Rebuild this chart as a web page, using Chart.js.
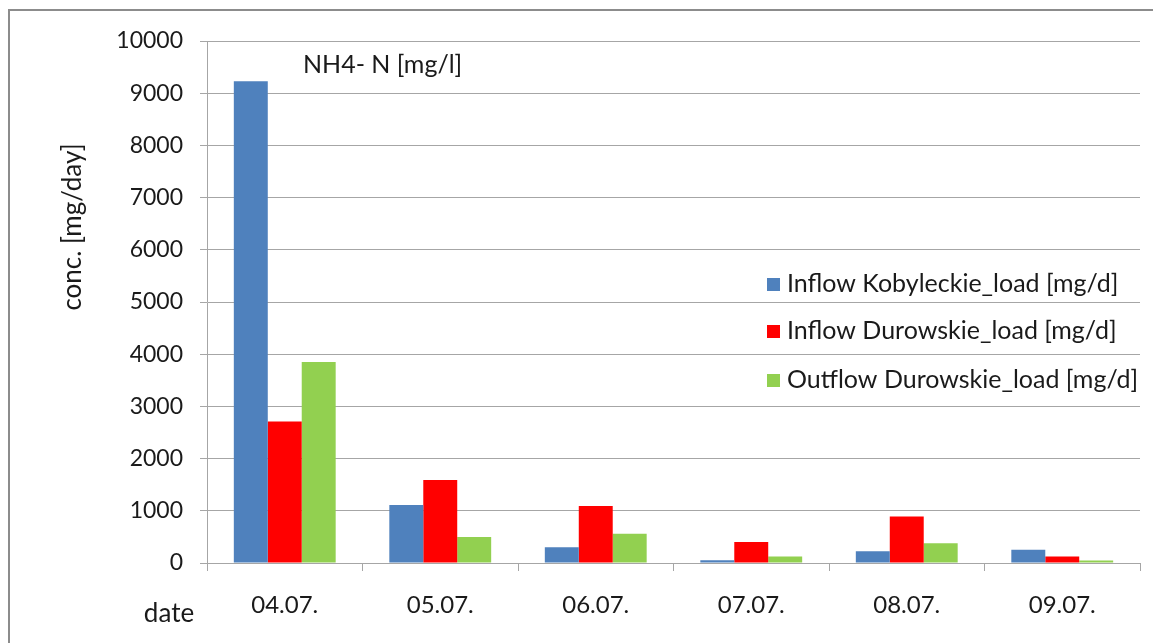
<!DOCTYPE html>
<html>
<head>
<meta charset="utf-8">
<script src="https://cdn.jsdelivr.net/npm/chart.js@4.4.1/dist/chart.umd.min.js"></script>
<style>
  html, body { margin: 0; padding: 0; background: #ffffff; }
  #wrap { position: relative; width: 1153px; height: 643px; }
  canvas { display: block; }
</style>
</head>
<body>
<div id="wrap"><canvas id="chart" width="1153" height="643"></canvas></div>
<script>
// Sampling dates and NH4-N loads per station
const dates = ['04.07.', '05.07.', '06.07.', '07.07.', '08.07.', '09.07.'];
const inflowKobyleckie = [9230, 1110, 300, 55, 225, 255];
const inflowDurowskie = [2710, 1590, 1090, 400, 890, 125];
const outflowDurowskie = [3850, 500, 560, 125, 380, 50];
const yTicks = [0, 1000, 2000, 3000, 4000, 5000, 6000, 7000, 8000, 9000, 10000];

const seriesNames = [
  'Inflow Kobyleckie_load [mg/d]',
  'Inflow Durowskie_load [mg/d]',
  'Outflow Durowskie_load [mg/d]'
];
const seriesColors = ['#4F81BD', '#FF0000', '#92D050'];

const FONT = 'Lato, "Open Sans", sans-serif';
const TEXT = '#1a1a1a';
const GRID = '#a6a6a6';

// Frame, titles and the in-plot legend
const decorations = {
  id: 'decorations',
  beforeDraw(chart) {
    const ctx = chart.ctx;
    ctx.save();
    ctx.fillStyle = '#ffffff';
    ctx.fillRect(0, 0, chart.width, chart.height);
    ctx.strokeStyle = '#8c8c8c';
    ctx.lineWidth = 2;
    ctx.strokeRect(9, 10, chart.width + 20, chart.height + 20);
    ctx.restore();
  },
  afterDraw(chart) {
    const ctx = chart.ctx;
    ctx.save();
    ctx.fillStyle = TEXT;
    ctx.textBaseline = 'middle';

    // chart heading
    ctx.font = '25px ' + FONT;
    ctx.textAlign = 'left';
    ctx.fillText('NH4- N [mg/l]', 303, 65);

    // y axis title
    ctx.save();
    ctx.translate(73, 227);
    ctx.rotate(-Math.PI / 2);
    ctx.textAlign = 'center';
    ctx.font = '26px ' + FONT;
    ctx.fillText('conc. [mg/day]', 0, 0);
    ctx.restore();

    // x axis title
    ctx.textAlign = 'center';
    ctx.font = '26px ' + FONT;
    ctx.fillText('date', 169, 614);

    // legend
    const rows = [284, 331, 380];
    ctx.font = '25px ' + FONT;
    ctx.textAlign = 'left';
    chart.data.datasets.forEach((ds, i) => {
      ctx.fillStyle = ds.backgroundColor;
      ctx.fillRect(767, rows[i] - 6, 13, 13);
      ctx.fillStyle = TEXT;
      ctx.fillText(ds.label, 787, rows[i]);
    });
    ctx.restore();
  }
};

new Chart(document.getElementById('chart'), {
  type: 'bar',
  data: {
    labels: dates,
    datasets: [
      { label: seriesNames[0], data: inflowKobyleckie, backgroundColor: seriesColors[0] },
      { label: seriesNames[1], data: inflowDurowskie, backgroundColor: seriesColors[1] },
      { label: seriesNames[2], data: outflowDurowskie, backgroundColor: seriesColors[2] }
    ]
  },
  options: {
    responsive: false,
    animation: false,
    devicePixelRatio: 1,
    categoryPercentage: 0.655,
    barPercentage: 1.0,
    layout: { padding: { left: 0, right: 13, top: 41, bottom: 0 } },
    plugins: {
      legend: { display: false },
      tooltip: { enabled: false }
    },
    scales: {
      x: {
        offset: true,
        grid: {
          offset: true,
          drawOnChartArea: false,
          drawTicks: true,
          tickLength: 8,
          color: GRID,
          lineWidth: 1
        },
        border: { display: true, color: GRID, width: 1 },
        ticks: {
          color: TEXT,
          font: { family: FONT, size: 24 },
          padding: 20
        },
        afterFit(scale) { scale.height = 80; }
      },
      y: {
        min: 0,
        max: 10000,
        afterBuildTicks(scale) { scale.ticks = yTicks.map(v => ({ value: v })); },
        grid: {
          color: GRID,
          lineWidth: 1,
          drawTicks: true,
          tickLength: 7
        },
        border: { display: true, color: GRID, width: 1 },
        ticks: {
          color: TEXT,
          font: { family: FONT, size: 23 },
          padding: 17,
          callback: v => String(v)
        },
        afterFit(scale) { scale.width = 207; }
      }
    }
  },
  plugins: [decorations]
});
</script>
</body>
</html>
